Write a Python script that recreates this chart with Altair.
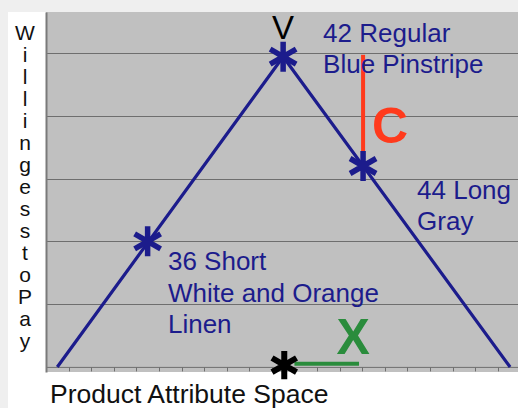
import altair as alt
import pandas as pd

# Willingness-to-pay curve over the product attribute space
curve_x = [0.5, 10.5, 20.55]
curve_wtp = [0.0, 4.94, 0.0]

# Products placed on the curve (short, regular, long)
product_x = [4.5, 10.5, 14.04]
product_wtp = [2.0, 4.94, 3.2]

# Customer's ideal point on the attribute axis
ideal_x = [10.55]
ideal_wtp = [0.03]

# C: loss of willingness to pay; X: distance from the ideal point
c_x = [14.04]
c_wtp_low = [3.2]
c_wtp_high = [4.97]
dist_x_start = [11.0]
dist_x_end = [13.86]
dist_wtp = [0.05]

# Product descriptions
label_text = ["42 Regular", "Blue Pinstripe", "44 Long", "Gray",
              "36 Short", "White and Orange", "Linen"]
label_x = [12.27, 12.27, 16.43, 16.43, 5.4, 5.4, 5.4]
label_y = [5.175, 4.68, 2.675, 2.18, 1.545, 1.035, 0.54]

# Single-letter annotations
v_pos = (10.49, 5.22)
c_pos = (15.23, 3.567)
x_pos = (13.6, 0.207)

y_title = "Willingess to Pay".replace(" ", "")
x_title = "Product Attribute Space"

NAVY = "#1c1c8c"
RED = "#ff3a1c"
GREEN = "#2a8c3c"
GRID = "#6e6e6e"
FONT = "Liberation Sans"

xs = alt.Scale(domain=[0, 20.9], nice=False, zero=False)
ys = alt.Scale(domain=[-0.08, 5.652], nice=False, zero=False)

x_axis = alt.Axis(title=None, labels=False, grid=False, values=list(range(0, 21)),
                  tickSize=4, tickColor=GRID, domainColor=GRID, domainWidth=1,
                  offset=-5.1)
y_axis = alt.Axis(title=None, labels=False, ticks=False, grid=True,
                  values=[1, 2, 3, 4, 5], gridColor=GRID, gridWidth=1,
                  domainColor="#7a7a7a", domainWidth=2)

X = alt.X("x:Q", scale=xs, axis=x_axis)
Y = alt.Y("y:Q", scale=ys, axis=y_axis)

curve_df = pd.DataFrame({"x": curve_x, "y": curve_wtp})
product_df = pd.DataFrame({"x": product_x, "y": product_wtp})
ideal_df = pd.DataFrame({"x": ideal_x, "y": ideal_wtp})
c_df = pd.DataFrame({"x": c_x, "y": c_wtp_low, "y2": c_wtp_high})
dist_df = pd.DataFrame({"x": dist_x_start, "x2": dist_x_end, "y": dist_wtp})
label_df = pd.DataFrame({"x": label_x, "y": label_y, "t": label_text})
one = pd.DataFrame({"k": [0]})

ASTERISK = "M0,-1L0,1M-0.866,-0.5L0.866,0.5M-0.866,0.5L0.866,-0.5"

# slide border strips around the white panel
top_strip = alt.Chart(one).mark_rect(color="#efefef", clip=False).encode(
    x=alt.value(-46), x2=alt.value(472), y=alt.value(-12), y2=alt.value(0))
left_strip = alt.Chart(one).mark_rect(color="#efefef", clip=False).encode(
    x=alt.value(-46), x2=alt.value(-38), y=alt.value(0), y2=alt.value(396))

curve = alt.Chart(curve_df).mark_line(color=NAVY, strokeWidth=3.2).encode(
    x=X, y=Y, order=alt.Order("x:Q"))

c_rule = alt.Chart(c_df).mark_rule(color=RED, strokeWidth=4).encode(
    x=X, y=Y, y2=alt.Y2("y2"))

dist_rule = alt.Chart(dist_df).mark_rule(color=GREEN, strokeWidth=4).encode(
    x=X, x2=alt.X2("x2"), y=Y)

products = alt.Chart(product_df).mark_point(
    shape=ASTERISK, filled=False, size=900, strokeWidth=5.5, color=NAVY, opacity=1
).encode(x=X, y=Y)

ideal = alt.Chart(ideal_df).mark_point(
    shape=ASTERISK, filled=False, size=800, strokeWidth=6, color="#000000", opacity=1
).encode(x=X, y=Y)

labels = alt.Chart(label_df).mark_text(
    align="left", baseline="alphabetic", font=FONT, fontSize=26, color=NAVY
).encode(x=X, y=Y, text="t:N")

def letter(pos, txt, color, size, weight):
    df = pd.DataFrame({"x": [pos[0]], "y": [pos[1]], "t": [txt]})
    return alt.Chart(df).mark_text(
        align="center", baseline="alphabetic", font=FONT, fontSize=size,
        fontWeight=weight, color=color
    ).encode(x=X, y=Y, text="t:N")

v_text = letter(v_pos, "V", "#000000", 33, "normal")
c_text = letter(c_pos, "C", RED, 50, "bold")
x_text = letter(x_pos, "X", GREEN, 50, "bold")

y_title_mark = alt.Chart(one).mark_text(
    align="center", baseline="alphabetic", font=FONT, fontSize=21,
    color="#111111", lineBreak="\n", lineHeight=22, clip=False
).encode(x=alt.value(-21), y=alt.value(28), text=alt.value("\n".join(y_title)))

x_title_mark = alt.Chart(one).mark_text(
    align="left", baseline="alphabetic", font=FONT, fontSize=26.5,
    color="#111111", clip=False
).encode(x=alt.value(4), y=alt.value(391), text=alt.value(x_title))

chart = alt.layer(
    curve, c_rule, dist_rule, products, ideal, labels,
    v_text, c_text, x_text, y_title_mark, x_title_mark, top_strip, left_strip
).properties(
    width=472, height=360,
    padding={"left": 46, "top": 12, "right": 0, "bottom": 36},
    autosize="none", background="#ffffff"
).configure_view(fill="#c0c0c0", strokeWidth=0)

chart.save("out.html", embed_options={"renderer": "svg", "actions": False})
